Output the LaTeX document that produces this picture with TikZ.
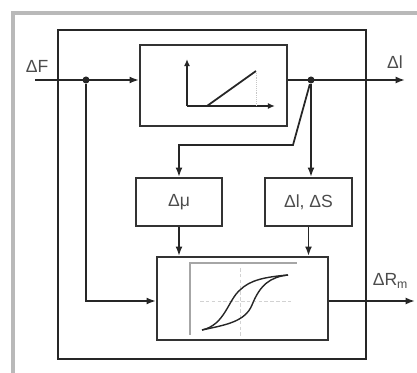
\documentclass[tikz,border=0pt]{standalone}
\usepackage{fontspec}
\setmainfont{Liberation Sans}
\usepackage{tikz}
\usetikzlibrary{arrows.meta}

\begin{document}
\begin{tikzpicture}[x=0.03cm, y=-0.03cm, line width=1.5pt,
    blk/.style={draw=black!80, line width=1.9pt, inner sep=0pt},
    sig/.style={black!85, -{Latex[length=8pt,width=6pt]}},
    lbl/.style={font=\fontsize{15}{17}\selectfont, text=black!70},
    dot/.style={circle, fill=black!85, inner sep=0pt, minimum size=6pt}]
  \useasboundingbox (0,0) rectangle (417,373);
  \draw[gray!55, line width=2.8pt] (13,373) -- (13,13) -- (417,13);
  \node[draw=black!85, line width=2.5pt, minimum width=9.24cm, minimum height=9.87cm]
    (frame) at (212,194.5) {};
  \node[blk, minimum width=4.41cm, minimum height=2.43cm] (lin) at (213.5,85.5) {};
  \node[blk, minimum width=2.58cm, minimum height=1.44cm, lbl] (mu) at (179,202) {Δμ};
  \node[blk, minimum width=2.61cm, minimum height=1.44cm, lbl] (ls) at (308.5,202) {Δl, ΔS};
  \node[blk, minimum width=5.13cm, minimum height=2.49cm] (hyst) at (242.5,298.5) {};
  \node[lbl] (lbF) at (37,66) {ΔF};
  \node[lbl] (lbl) at (395,62) {Δl};
  \node[lbl, anchor=west] (lbR) at (368,281) {ΔR\textsubscript{m}};
  \coordinate (in) at (35,80);
  \node[dot] (split) at (86,80) {};
  \node[dot] (tap) at (311,80) {};
  \coordinate (bend) at (293,145);
  \coordinate (outl) at (405,80);
  \coordinate (outR) at (415,301);
  \draw[sig] (in) -- (in -| lin.west);
  \draw[sig] (lin.east |- tap) -- (outl);
  \draw[sig] (tap) -- (tap |- ls.north);
  \draw[sig] (tap) -- (bend) -| (mu.north);
  \draw[sig] (split) |- (hyst.west |- outR);
  \draw[sig] (mu.south) -- (mu.south |- hyst.north);
  \draw[sig] (ls.south) -- (ls.south |- hyst.north);
  \draw[sig] (hyst.east |- outR) -- (outR);
  % characteristic inside the upper block
  \draw[black!85, line width=1.3pt, -{Latex[length=6pt,width=5pt]}] (187,106) -- (187,59);
  \draw[black!85, line width=1.3pt, -{Latex[length=6pt,width=5pt]}] (187,106) -- (275,106);
  \draw[black!85, line width=1.5pt] (207,106) -- (256,71);
  \draw[gray!45, line width=0.6pt, densely dotted] (256,71) -- (256,106);
  % hysteresis loop inside the lower block
  \draw[gray!70, line width=1pt] (190,335) -- (190,263) -- (297,263);
  \draw[gray!35, line width=0.6pt, densely dashed] (200,301) -- (292,301);
  \draw[gray!35, line width=0.6pt, densely dashed] (240,268) -- (240,336);
  \draw[black!85, line width=1.2pt]
    (202,330) .. controls (225,325) and (228,300) .. (240,290)
    .. controls (250,280) and (265,277) .. (288,275);
  \draw[black!85, line width=1.2pt]
    (202,330) .. controls (225,325) and (245,322) .. (252,305)
    .. controls (260,285) and (270,277) .. (288,275);
\end{tikzpicture}
\end{document}
